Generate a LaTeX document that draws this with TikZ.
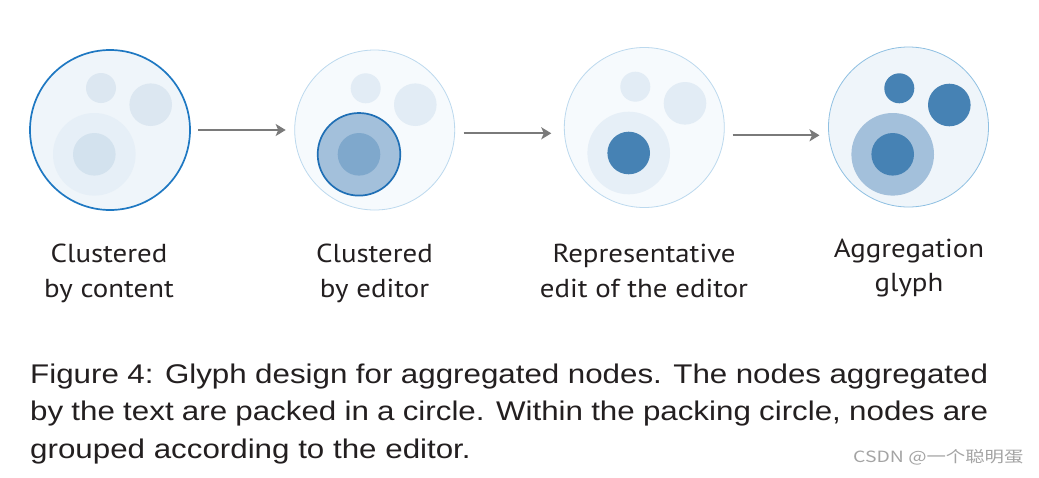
\documentclass[tikz,border=0pt]{standalone}
\usepackage{fontspec}
\setmainfont{Liberation Sans}
\newfontfamily\capfont[FakeStretch=1.16]{Liberation Sans}
\newfontfamily\labelfont[FakeStretch=1.11]{PT Sans}
\newfontfamily\cjkfont[FakeStretch=1.25]{Noto Sans CJK SC}
\usetikzlibrary{arrows.meta}
\definecolor{txt}{HTML}{231F20}
\definecolor{arrgray}{HTML}{7A7A7A}
\definecolor{oneFill}{HTML}{EFF5FA}
\definecolor{oneDraw}{HTML}{1E78C2}
\definecolor{oneSmall}{HTML}{DCE7F1}
\definecolor{oneBig}{HTML}{E6EFF7}
\definecolor{oneInner}{HTML}{D3E2EE}
\definecolor{paleFill}{HTML}{F6FAFD}
\definecolor{paleDraw}{HTML}{BCD9EE}
\definecolor{paleSmall}{HTML}{E2ECF5}
\definecolor{midBlue}{HTML}{A3C0DB}
\definecolor{midDraw}{HTML}{1F6FB5}
\definecolor{midInner}{HTML}{7FA8CC}
\definecolor{steel}{HTML}{4682B4}
\definecolor{fourFill}{HTML}{EFF5FA}
\definecolor{fourDraw}{HTML}{8FC0E2}
\definecolor{wm}{HTML}{A4A4A4}
\tikzset{
  disc/.style={circle,inner sep=0pt,outer sep=0pt,minimum size=#1},
  outerc/.style={disc=160pt},
  smallc/.style={disc=30pt},
  medc/.style={disc=42.6pt},
  bigc/.style={disc=82.6pt},
  innerc/.style={disc=42.6pt},
  arr/.style={draw=arrgray,line width=2pt,-{Stealth[length=10pt,width=12pt,inset=2.5pt]}},
  lbl/.style={font=\labelfont\fontsize{26}{35}\selectfont,text=txt,align=center,anchor=base,inner sep=0pt},
}
\begin{document}
\begin{tikzpicture}[x=1pt,y=-1pt]
\useasboundingbox (0,0) rectangle (1039,477);
\fill[white] (0,0) rectangle (1039,477);
% glyph 1
\node[outerc,fill=oneFill,draw=oneDraw,line width=1.7pt] (c1) at (110,130) {};
\node[smallc,fill=oneSmall] (c1s) at (101,88) {};
\node[medc,fill=oneSmall] (c1m) at (150.7,104.7) {};
\node[bigc,fill=oneBig] (c1b) at (94.3,154.3) {};
\node[innerc,fill=oneInner] (c1i) at (94.3,154.3) {};
% glyph 2
\node[outerc,fill=paleFill,draw=paleDraw,line width=0.8pt] (c2) at (374.7,130) {};
\node[smallc,fill=paleSmall] (c2s) at (365.7,88.3) {};
\node[medc,fill=paleSmall] (c2m) at (415.3,104.7) {};
\node[bigc,fill=midBlue,draw=midDraw,line width=1.7pt] (c2b) at (359,154.3) {};
\node[innerc,fill=midInner] (c2i) at (359,154.3) {};
% glyph 3
\node[outerc,fill=paleFill,draw=paleDraw,line width=0.8pt] (c3) at (644.3,127.5) {};
\node[smallc,fill=paleSmall] (c3s) at (635.3,86.7) {};
\node[medc,fill=paleSmall] (c3m) at (685,103.3) {};
\node[bigc,fill=oneBig] (c3b) at (628.7,153) {};
\node[innerc,fill=steel] (c3i) at (628.7,153) {};
% glyph 4
\node[outerc,fill=fourFill,draw=fourDraw,line width=0.8pt] (c4) at (908.5,127) {};
\node[smallc,fill=steel] (c4s) at (899.3,88.3) {};
\node[medc,fill=steel] (c4m) at (949.3,105) {};
\node[bigc,fill=midBlue] (c4b) at (892.7,154.3) {};
\node[innerc,fill=steel] (c4i) at (892.7,154.3) {};
% arrows
\draw[arr] ([xshift=8pt]c1.east) -- ([xshift=-9pt]c2.west);
\draw[arr] ([xshift=9pt,yshift=-3.3pt]c2.east) -- ([xshift=-13pt,yshift=-5.8pt]c3.west);
\draw[arr] ([xshift=8.4pt,yshift=-7.8pt]c3.east) -- ([xshift=-9pt,yshift=-8.3pt]c4.west);
% labels (anchor base = last line baseline)
\node[lbl] (l1) at (109,297.5) {Clustered\\by content};
\node[lbl] (l2) at (374.5,297.5) {Clustered\\by editor};
\node[lbl] (l3) at (644,297.5) {Representative\\edit of the editor};
\node[lbl,font=\labelfont\fontsize{26}{34}\selectfont] (l4) at (909,291) {Aggregation\\glyph};
% caption
\node[anchor=base west,inner sep=0pt,align=left,text=txt,font=\capfont\fontsize{27}{37.5}\selectfont] (cap) at (30,458)
{\makebox[958pt][s]{Figure 4: Glyph design for aggregated nodes. The nodes aggregated}\\
\makebox[958pt][s]{by the text are packed in a circle. Within the packing circle, nodes are}\\
grouped according to the editor.};
% watermark
\node[anchor=base west,inner sep=0pt,text=wm,font=\cjkfont\fontsize{15.5}{16}\selectfont] (wmk) at (853,462) {CSDN @一个聪明蛋};
\end{tikzpicture}
\end{document}
